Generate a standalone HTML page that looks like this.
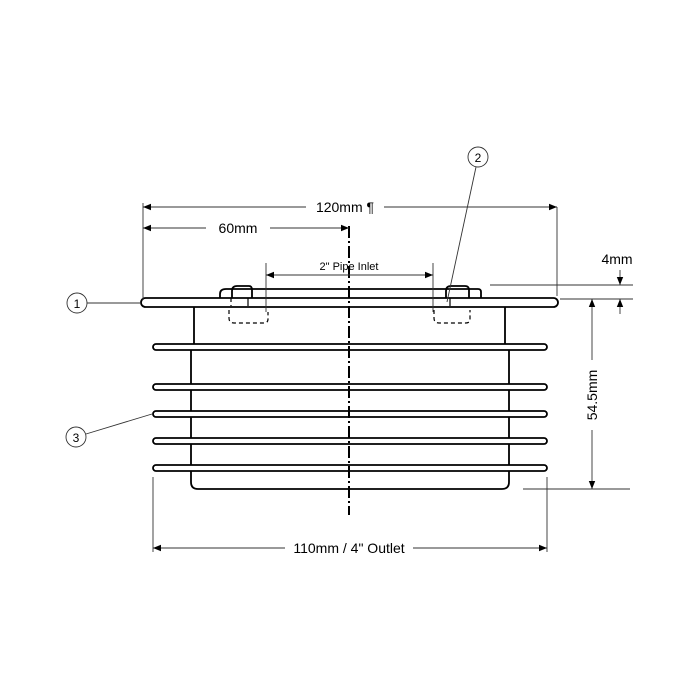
<!DOCTYPE html>
<html><head><style>html,body{margin:0;background:#fff}svg{display:block}</style></head><body>
<svg width="700" height="700" viewBox="0 0 700 700" xmlns="http://www.w3.org/2000/svg" font-family="Liberation Sans, sans-serif">
<defs>
<marker id="a" viewBox="0 0 10 10" refX="10" refY="5" markerWidth="10" markerHeight="8" orient="auto-start-reverse" markerUnits="userSpaceOnUse"><path d="M0,1 L10,5 L0,9 z" fill="#000"/></marker>
</defs>
<g stroke="#000" fill="none" stroke-width="1.8">
<path d="M194,306 V344 M505,306 V344"/>
<path d="M191,350 V482 Q191,489 198,489 H502 Q509,489 509,482 V350"/>
<g fill="#fff">
<rect x="153" y="344" width="394" height="6" rx="3"/>
<rect x="153" y="384" width="394" height="6" rx="3"/>
<rect x="153" y="411" width="394" height="6" rx="3"/>
<rect x="153" y="438" width="394" height="6" rx="3"/>
<rect x="153" y="465" width="394" height="6" rx="3"/>
</g>
<path d="M233,289 H478 Q481,289 481,292 V298"/>
<path d="M220,298 V294 Q220,289 226,289 H233"/>
<path d="M232,298 V291 Q232,286 237,286 H249 Q252,286 252,290 V298"/>
<path d="M446,298 V291 Q446,286 451,286 H465 Q469,286 469,290 V298"/>
<rect x="141" y="298" width="417" height="9" rx="4.5" fill="#fff"/>
<path d="M248,298 V306 M450,298 V306" stroke-width="1.2"/>
<path d="M229,310 V318 Q229,323 234,323 H264 Q268,323 268,319 V312 M231,298 V306" stroke-dasharray="4,3" stroke-width="1.2"/>
<path d="M434,310 V318 Q434,323 439,323 H466 Q470,323 470,319 V310" stroke-dasharray="4,3" stroke-width="1.2"/>
<path d="M349,226 V515" stroke-dasharray="12,3,2,3" stroke-width="2"/>
</g>
<g stroke="#333" stroke-width="0.9" fill="none">
<path d="M143,203 V300 M557,207 V296"/>
<path d="M143,207 H306" marker-start="url(#a)"/>
<path d="M384,207 H557" marker-end="url(#a)"/>
<path d="M143,228 H206" marker-start="url(#a)"/>
<path d="M270,228 H349" marker-end="url(#a)"/>
<path d="M266,263 V312 M433,263 V312"/>
<path d="M266,275 H433" marker-start="url(#a)" marker-end="url(#a)"/>
<path d="M490,285 H633 M560,299 H633"/>
<path d="M620,270 V285" marker-end="url(#a)"/>
<path d="M620,314 V299" marker-end="url(#a)"/>
<path d="M592,299 V360" marker-start="url(#a)"/>
<path d="M592,430 V489" marker-end="url(#a)"/>
<path d="M523,489 H630"/>
<path d="M153,477 V552 M547,477 V552"/>
<path d="M153,548 H285" marker-start="url(#a)"/>
<path d="M413,548 H547" marker-end="url(#a)"/>
<circle cx="77" cy="303" r="10"/><path d="M87,303 H141"/>
<circle cx="478" cy="157" r="10"/><path d="M476,167 L447,302"/>
<circle cx="76" cy="437" r="10"/><path d="M86,434 L152,414"/>
</g>
<g font-size="14" fill="#000" text-anchor="middle">
<text x="345" y="212">120mm ¶</text>
<text x="238" y="233">60mm</text>
<text x="349" y="270" font-size="11">2" Pipe Inlet</text>
<text x="617" y="264">4mm</text>
<text x="349" y="553">110mm / 4" Outlet</text>
<text transform="translate(597,395) rotate(-90)">54.5mm</text>
<text x="77" y="308" font-size="12">1</text>
<text x="478" y="162" font-size="12">2</text>
<text x="76" y="442" font-size="12">3</text>
</g>
</svg>
</body></html>
